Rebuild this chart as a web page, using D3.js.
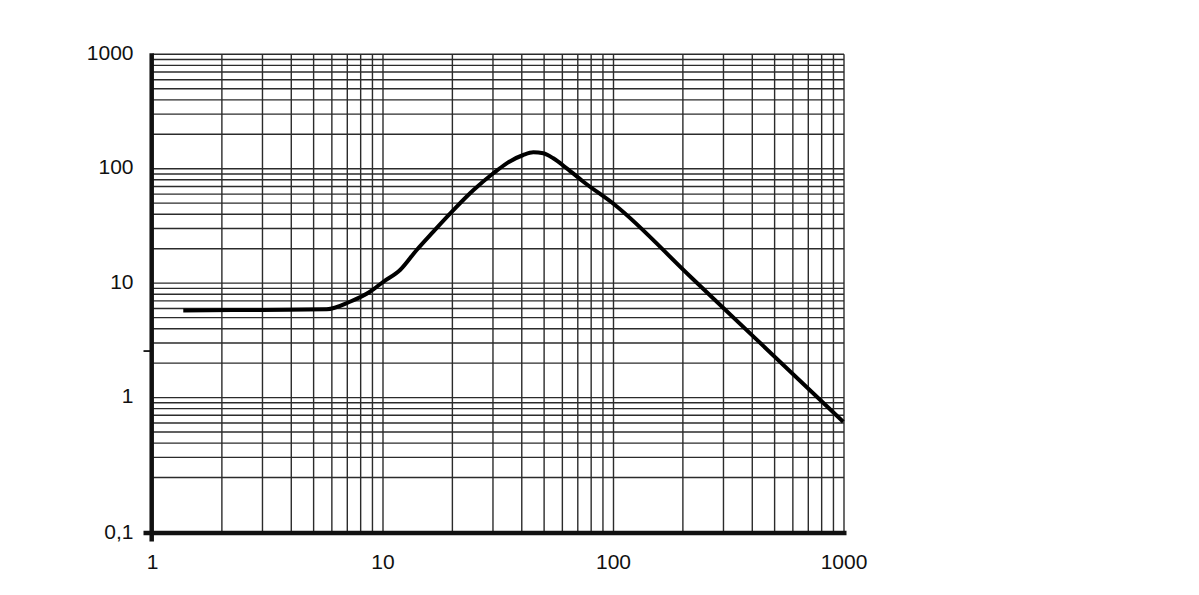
<!DOCTYPE html>
<html>
<head>
<meta charset="utf-8">
<script src="https://cdn.jsdelivr.net/npm/d3@7"></script>
<style>
  html, body { margin: 0; padding: 0; background: #fff; }
  svg { display: block; }
  text { font-family: "Liberation Sans", Arial, sans-serif; fill: #111; }
</style>
</head>
<body>
<svg id="chart" width="1199" height="595"></svg>
<script>
// ---- data ----
const curveX = [1.36, 3.0, 5.7, 7.19, 8.78, 10.03, 11.86, 14.0, 16.5, 20.2, 24.7, 30.1, 34.4, 40.6, 44.9, 49.6, 54.8, 62.7, 74.0, 101.5, 214.7, 418, 993];
const curveY = [5.78, 5.84, 5.91, 6.88, 8.41, 10.28, 13.02, 19.5, 28.1, 43.5, 65.1, 91.2, 111.5, 131.8, 139.1, 136.3, 123.3, 100.8, 77.0, 48.2, 11.49, 3.21, 0.614];
const xTickValues = [1, 10, 100, 1000];
const xTickLabels = ["1", "10", "100", "1000"];
const yTickValues = [0.1, 1, 10, 100, 1000];
const yTickLabels = ["0,1", "1", "10", "100", "1000"];
const yExtraTicks = [2.55];
const xDomain = [1, 1000];
const yDomain = [0.1, 1000];

(function () {
  // ---- layout ----
  const pLeft = 152.5, pRight = 844, pTop = 54.3;
  const axisY = 533;          // bottom axis line
  const yAtMin = 512;         // where 0.1 falls on the log scale
  const svg = d3.select("#chart");

  const x = d3.scaleLog().domain(xDomain).range([pLeft, pRight]);
  const y = d3.scaleLog().domain(yDomain).range([yAtMin, pTop]);

  function gridValues(lo, hi) {
    const out = [];
    for (let p = Math.round(Math.log10(lo)); Math.pow(10, p) < hi - 1e-9; p++) {
      for (let m = 1; m <= 9; m++) out.push(m * Math.pow(10, p));
    }
    out.push(hi);
    return out;
  }
  const xGrid = gridValues(xDomain[0], xDomain[1]).filter(v => v > xDomain[0] * 1.0001);
  const yGrid = gridValues(yDomain[0], yDomain[1]).filter(v => v > yDomain[0] * 1.0001);

  const grid = svg.append("g").attr("stroke", "#2b2b2b").attr("stroke-width", 1.4);
  grid.selectAll("line.v").data(xGrid).join("line").attr("class", "v")
    .attr("x1", d => x(d)).attr("x2", d => x(d))
    .attr("y1", pTop).attr("y2", axisY);
  grid.selectAll("line.h").data(yGrid).join("line").attr("class", "h")
    .attr("x1", pLeft).attr("x2", pRight)
    .attr("y1", d => y(d)).attr("y2", d => y(d));

  // axes (thick)
  const axes = svg.append("g").attr("stroke", "#111").attr("stroke-width", 4.5);
  axes.append("line").attr("x1", pLeft - 0.8).attr("x2", pLeft - 0.8).attr("y1", pTop - 1).attr("y2", axisY + 8.5);
  axes.append("line").attr("x1", pLeft - 9).attr("x2", pRight + 2.5).attr("y1", axisY).attr("y2", axisY);
  axes.selectAll("line.t").data(yExtraTicks).join("line").attr("class", "t")
    .attr("stroke-width", 1.8)
    .attr("x1", pLeft - 9).attr("x2", pLeft)
    .attr("y1", d => y(d)).attr("y2", d => y(d));

  // labels
  svg.append("g").selectAll("text").data(yTickValues).join("text")
    .attr("x", 133.5)
    .attr("y", d => (d === yDomain[0] ? axisY : y(d)) + 5.5)
    .attr("text-anchor", "end")
    .attr("font-size", 21)
    .text((d, i) => yTickLabels[i]);
  svg.append("g").selectAll("text").data(xTickValues).join("text")
    .attr("x", d => x(d))
    .attr("y", 569)
    .attr("text-anchor", "middle")
    .attr("font-size", 21)
    .text((d, i) => xTickLabels[i]);

  // curve
  const pts = curveX.map((d, i) => [d, curveY[i]]);
  svg.append("path").datum(pts)
    .attr("fill", "none").attr("stroke", "#000").attr("stroke-width", 4)
    .attr("stroke-linejoin", "round")
    .attr("d", d3.line().x(d => x(d[0])).y(d => y(d[1])).curve(d3.curveMonotoneX));
})();
</script>
</body>
</html>
